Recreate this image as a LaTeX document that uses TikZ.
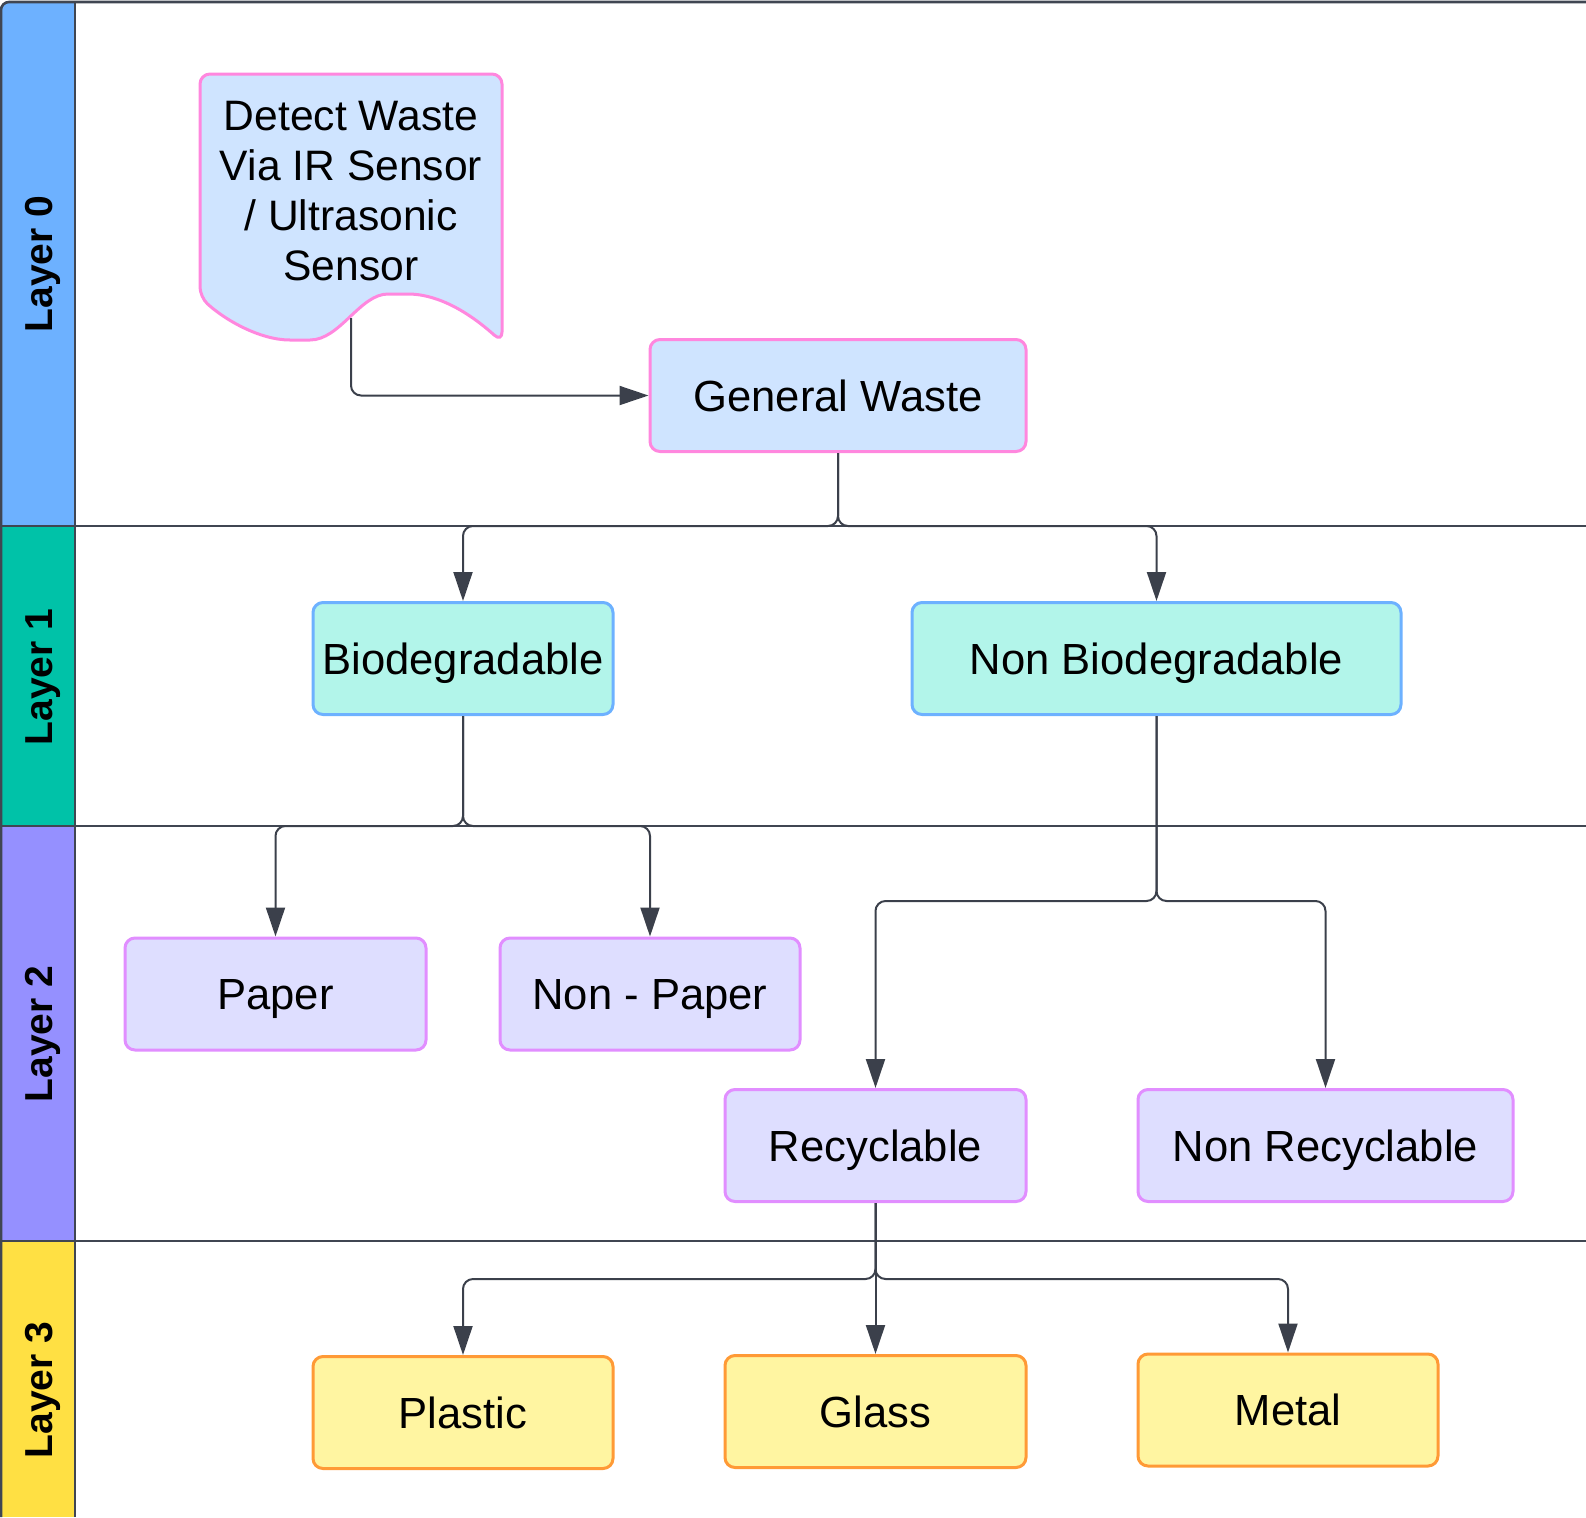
\documentclass[tikz,border=0pt]{standalone}
\usepackage{fontspec}
\setmainfont{Liberation Sans}
\usepackage{tikz}
\usetikzlibrary{positioning,arrows.meta}

\definecolor{laneline}{HTML}{404652}
\definecolor{lanezero}{HTML}{6DB1FF}
\definecolor{laneone}{HTML}{00C2A8}
\definecolor{lanetwo}{HTML}{9590FF}
\definecolor{lanethree}{HTML}{FFE043}
\definecolor{genfill}{HTML}{CFE4FF}
\definecolor{genline}{HTML}{FF87DE}
\definecolor{biofill}{HTML}{B2F5EA}
\definecolor{bioline}{HTML}{6DB1FF}
\definecolor{subfill}{HTML}{DEDEFF}
\definecolor{subline}{HTML}{E18EFF}
\definecolor{matfill}{HTML}{FFF5A1}
\definecolor{matline}{HTML}{FF9A36}
\definecolor{linkcol}{HTML}{3B404B}

\begin{document}
\begin{tikzpicture}[
  x=0.5pt, y=-0.5pt,
  lane/.style={rotate=90, font=\fontsize{19.5}{23}\selectfont\bfseries, text height=14pt, text depth=0pt},
  border/.style={draw=laneline, line width=1.3pt},
  box/.style={draw, rounded corners=5pt, line width=1.5pt, minimum height=56pt, inner sep=0pt,
    font=\fontsize{21.8}{26}\selectfont, text height=15.6pt, text depth=0pt},
  gen/.style={box, fill=genfill, draw=genline},
  bio/.style={box, fill=biofill, draw=bioline},
  sub/.style={box, fill=subfill, draw=subline},
  mat/.style={box, fill=matfill, draw=matline},
  docshape/.style={fill=genfill, draw=genline, line width=1.5pt, rounded corners=5pt},
  doctext/.style={align=center, font=\fontsize{21.3}{25}\selectfont},
  link/.style={draw=linkcol, line width=1pt, rounded corners=5pt, -{Triangle[length=14.5pt, width=9.5pt]}}
]
\useasboundingbox (0,0) rectangle (1586,1517);

% ======================================================
% =============== LANES ================================
% ======================================================
\fill[lanezero] (75,2) -- (75,526) -- (1,526) {[rounded corners=4pt] -- (1,2)} -- cycle;
\fill[laneone] (1,526) rectangle (75,826);
\fill[lanetwo] (1,826) rectangle (75,1241);
\fill[lanethree] (1,1241) rectangle (75,1517);

\draw[border, rounded corners=4pt] (1586,2) -- (1,2) -- (1,1517);
\draw[border] (75,2) -- (75,1517);
\draw[border] (1,526) -- (1586,526);
\draw[border] (1,826) -- (1586,826);
\draw[border] (1,1241) -- (1586,1241);

\node (L0) [lane] at (38,264) {Layer 0};
\node (L1) [lane] at (38,677) {Layer 1};
\node (L2) [lane] at (38,1034) {Layer 2};
\node (L3) [lane] at (38,1390) {Layer 3};

% ======================================================
% =============== LAYER 0 ==============================
% ======================================================
\path[docshape] (502,342) .. controls (455,300) and (425,294) .. (398,294)
  .. controls (360,294) and (340,340) .. (300,340)
  .. controls (260,340) and (225,320) .. (200,297) -- (200,74) -- (502,74) -- cycle;
\node (detect) [doctext] at (351,191) {Detect Waste\\Via IR Sensor\\/ Ultrasonic\\Sensor};
\coordinate (docout) at (351,318);

\node (gen) [gen, minimum width=188pt] at (838,395.5) {General Waste};

% ======================================================
% =============== LAYER 1 ==============================
% ======================================================
\node (bio) [bio, minimum width=150pt] at (463,658.5) {Biodegradable};
\node (nbio) [bio, minimum width=244.5pt] at (1156.5,658.5) {Non Biodegradable};

% ======================================================
% =============== LAYER 2 ==============================
% ======================================================
\node (paper) [sub, minimum width=150.5pt] at (275.5,994) {Paper};
\node (npaper) [sub, minimum width=150pt] at (650,994) {Non - Paper};
\node (rec) [sub, minimum width=150.5pt] at (875.5,1145.5) {Recyclable};
\node (nrec) [sub, minimum width=187.5pt] at (1325.5,1145.5) {Non Recyclable};

% ======================================================
% =============== LAYER 3 ==============================
% ======================================================
\node (plastic) [mat, minimum width=150pt] at (463,1412.5) {Plastic};
\node (glass) [mat, minimum width=150.5pt] at (875.5,1411.5) {Glass};
\node (metal) [mat, minimum width=150pt] at (1288,1410) {Metal};

% links
\coordinate (j0) at (838,526);
\coordinate (j1) at (463,826);
\coordinate (j2) at (1156.5,901);
\coordinate (j3) at (875.5,1279);

\draw[link] (docout) |- (gen.west);
\draw[link] (gen.south) -- (j0) -| (bio.north);
\draw[link] (gen.south) -- (j0) -| (nbio.north);
\draw[link] (bio.south) -- (j1) -| (paper.north);
\draw[link] (bio.south) -- (j1) -| (npaper.north);
\draw[link] (nbio.south) -- (j2) -| (rec.north);
\draw[link] (nbio.south) -- (j2) -| (nrec.north);
\draw[link] (rec.south) -- (j3) -| (plastic.north);
\draw[link] (rec.south) -- (glass.north);
\draw[link] (rec.south) -- (j3) -| (metal.north);

\end{tikzpicture}
\end{document}
